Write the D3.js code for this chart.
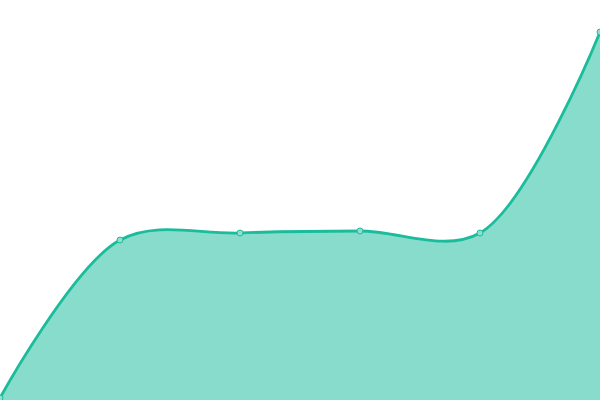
<!DOCTYPE html>
<html>
<head>
<meta charset="utf-8">
<script src="https://cdn.jsdelivr.net/npm/d3@7"></script>
<style>
  html, body { margin: 0; padding: 0; background: #fff; }
  svg { display: block; }
</style>
</head>
<body>
<div id="chart"></div>
<script>
// data
var categories = [0, 1, 2, 3, 4, 5];
var values = [0.5, 40, 41.75, 42.25, 41.75, 92];

var width = 600,
    height = 400;

var x = d3.scaleLinear()
    .domain([0, categories.length - 1])
    .range([0, width]);

var y = d3.scaleLinear()
    .domain([0, 100])
    .range([height, 0]);

var points = categories.map((c, i) => ({ c: c, v: values[i] }));

var svg = d3.select("#chart").append("svg")
    .attr("width", width)
    .attr("height", height);

var curve = d3.curveCatmullRom;

var area = d3.area()
    .x(d => x(d.c))
    .y0(height)
    .y1(d => y(d.v))
    .curve(curve);

var line = d3.line()
    .x(d => x(d.c))
    .y(d => y(d.v))
    .curve(curve);

svg.append("path")
    .datum(points)
    .attr("fill", "#1abc9c")
    .attr("fill-opacity", 0.52)
    .attr("d", area);

svg.append("path")
    .datum(points)
    .attr("fill", "none")
    .attr("stroke", "#1abc9c")
    .attr("stroke-width", 2.8)
    .attr("d", line);

svg.append("g")
    .selectAll("circle")
    .data(points)
    .join("circle")
    .attr("cx", d => x(d.c))
    .attr("cy", d => y(d.v))
    .attr("r", 3)
    .attr("fill", "#8de0cf")
    .attr("stroke", "#1abc9c")
    .attr("stroke-width", 1);
</script>
</body>
</html>
